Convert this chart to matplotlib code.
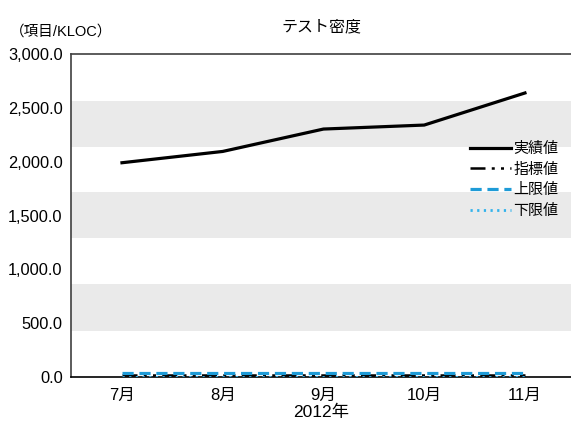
import matplotlib
matplotlib.use("Agg")
import matplotlib.pyplot as plt

plt.rcParams['font.family'] = ['Liberation Sans', 'Noto Sans CJK JP', 'DejaVu Sans']

# データ
months = ['7月', '8月', '9月', '10月', '11月']
actual = [1990, 2095, 2303, 2340, 2638]      # 実績値
target = [20, 20, 20, 20, 20]                # 指標値
upper = [40, 40, 40, 40, 40]                 # 上限値
lower = [4, 4, 4, 4, 4]                      # 下限値
yticks = [0, 500, 1000, 1500, 2000, 2500, 3000]
bands = [(427, 864), (1291, 1718), (2136, 2564)]  # 背景の灰色帯

fig = plt.figure(figsize=(5.71, 4.26), dpi=100)
ax = fig.add_axes([71/571, 49/426, 500/571, 323/426])

for lo, hi in bands:
    ax.axhspan(lo, hi, color='#EAEAEA', lw=0, zorder=0)

x = range(len(months))
ax.plot(x, actual, color='black', lw=2.3, label='実績値', zorder=3)
ax.plot(x, target, color='black', lw=1.8, linestyle=(0, (6, 2.5, 1.2, 2.5, 1.2, 2.5)), label='指標値', zorder=3)
ax.plot(x, upper, color='#1E9BD7', lw=2.3, linestyle=(0, (3.5, 1.8)), label='上限値', zorder=4)
ax.plot(x, lower, color='#33B3EC', lw=2.0, linestyle=(0, (0.8, 1.6)), label='下限値', zorder=4)

ax.set_xlim(-0.506, 4.457)
ax.set_ylim(0, 3000)
ax.set_xticks(list(x))
ax.set_xticklabels(months, fontsize=12)
ax.set_yticks(yticks)
ax.set_yticklabels([f'{v:,.1f}' for v in yticks], fontsize=11.8)
ax.tick_params(length=0, pad=6)
ax.tick_params(axis='x', pad=8)

ax.spines['right'].set_visible(False)
ax.spines['top'].set_color('#404040')
ax.spines['left'].set_color('#404040')
ax.spines['bottom'].set_color('black')
for s in ['top', 'left', 'bottom']:
    ax.spines[s].set_linewidth(1.2)

ax.set_title('テスト密度', fontsize=11.5, pad=16)
ax.set_xlabel('2012年', fontsize=12.5, labelpad=1)
fig.text(10/571, 1 - 32/426, '（項目/KLOC）', fontsize=10.5, va='center', ha='left')

fig.legend(loc='center left', bbox_to_anchor=(470/571, 1 - 180/426), frameon=False,
           fontsize=10.8, handlelength=2.7, handletextpad=0.2, labelspacing=0.45,
           borderpad=0, borderaxespad=0)

fig.savefig('out.png', dpi=100)
